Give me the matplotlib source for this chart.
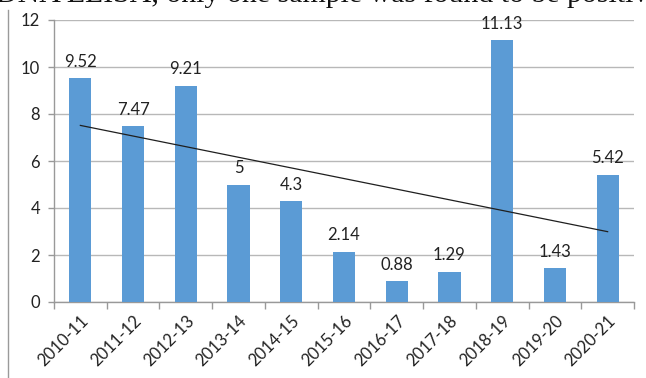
import numpy as np
import matplotlib
matplotlib.use("Agg")
import matplotlib.pyplot as plt
from matplotlib.lines import Line2D

categories = ["2010-11", "2011-12", "2012-13", "2013-14", "2014-15", "2015-16",
              "2016-17", "2017-18", "2018-19", "2019-20", "2020-21"]
values = [9.52, 7.47, 9.21, 5, 4.3, 2.14, 0.88, 1.29, 11.13, 1.43, 5.42]
value_labels = ["9.52", "7.47", "9.21", "5", "4.3", "2.14", "0.88", "1.29", "11.13", "1.43", "5.42"]
yticks = [0, 2, 4, 6, 8, 10, 12]
header_text = "DNA ELISA, only one sample was found to be positive"

plt.rcParams['font.family'] = ['Lato', 'DejaVu Sans']

fig = plt.figure(figsize=(6.46, 3.78), dpi=100)
ax = fig.add_axes([54/646, 1 - 302/378, 580/646, 282/378])

x = np.arange(len(categories))
ax.bar(x, values, width=0.42, color="#5B9BD5", zorder=3)

# linear trendline
coef = np.polyfit(x, values, 1)
ax.plot(x, np.polyval(coef, x), color="#1f1f1f", lw=0.9, zorder=4)

for xi, v, lab in zip(x, values, value_labels):
    ax.text(xi, v + 0.35, lab, ha="center", va="bottom", fontsize=12, color="#222222", zorder=5)

ax.set_xlim(-0.5, len(categories) - 0.5)
ax.set_ylim(0, 12)
ax.set_yticks(yticks)
ax.set_yticklabels([str(t) for t in yticks], fontsize=12, color="#222222")
ax.yaxis.grid(True, color="#b8b8b8", lw=1, zorder=0)
ax.set_axisbelow(True)

ax.set_xticks(x)
ax.set_xticklabels(categories, rotation=45, ha="right", rotation_mode="anchor",
                   fontsize=12, color="#222222")
ax.set_xticks(np.arange(-0.5, len(categories), 1), minor=True)
ax.tick_params(axis="x", which="major", length=0, pad=8)
ax.tick_params(axis="x", which="minor", length=5, color="#999999", width=1)
ax.tick_params(axis="y", length=4, color="#999999", width=1, pad=6)

for s in ["top", "right"]:
    ax.spines[s].set_visible(False)
for s in ["left", "bottom"]:
    ax.spines[s].set_color("#999999")
    ax.spines[s].set_linewidth(1)

# chart frame left border line
fig.add_artist(Line2D([8/646, 8/646], [0, 1 - 10/378], color="#9a9a9a", lw=1))

# cropped document text at the very top
fig.text(-4/646, 1 - 2.5/378, header_text, family="Liberation Serif", fontsize=21.5,
         ha="left", va="baseline", color="#111111")

fig.savefig("out.png", dpi=100)
